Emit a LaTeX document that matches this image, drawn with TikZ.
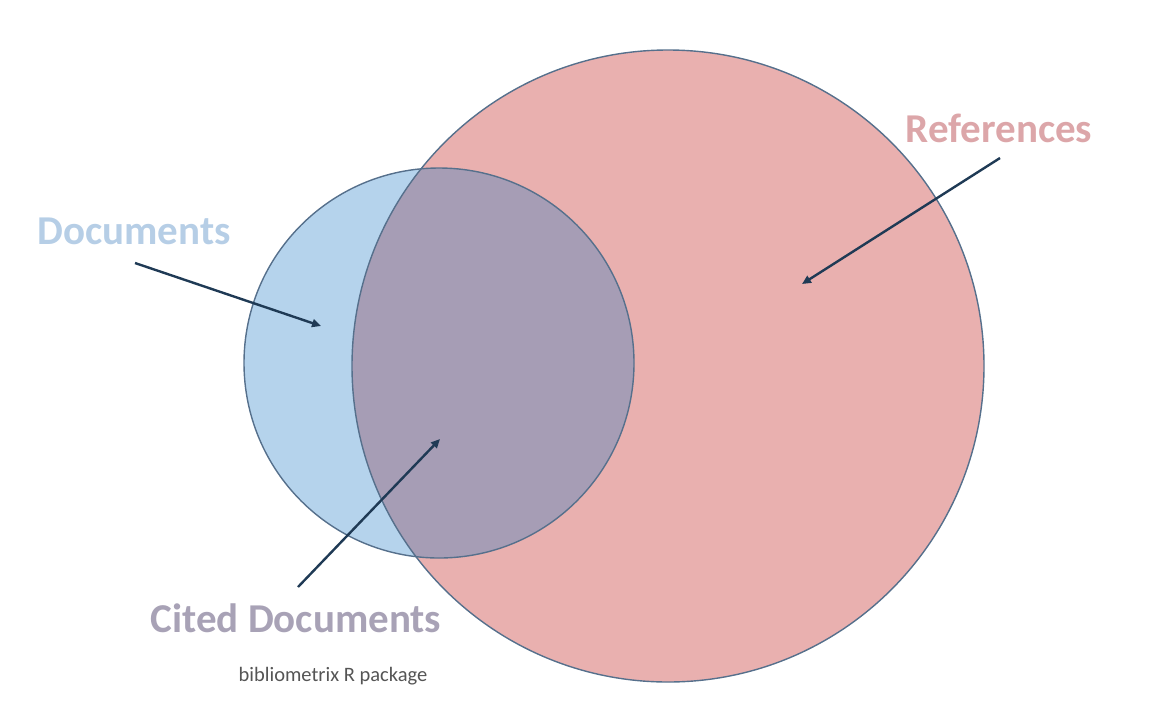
\documentclass[tikz,border=0pt]{standalone}
\usepackage{fontspec}
\setmainfont{Carlito}
\usetikzlibrary{arrows.meta}
\definecolor{docfill}{HTML}{B5D3EC}
\definecolor{reffill}{HTML}{E9B0AF}
\definecolor{bothfill}{HTML}{A69DB5}
\definecolor{rim}{HTML}{56708C}
\definecolor{pointer}{HTML}{1F3A55}
\definecolor{doctext}{HTML}{B6CEE6}
\definecolor{reftext}{HTML}{DCA6A9}
\definecolor{citetext}{HTML}{A8A2B6}
\definecolor{notetext}{HTML}{555555}
\tikzset{
  rimline/.style={draw=rim, line width=1.4pt},
  pointerline/.style={draw=pointer, line width=2.4pt, -{Triangle[length=9pt,width=8pt]}},
  biglabel/.style={font=\fontsize{41}{49}\selectfont\bfseries, inner sep=0pt},
}
\begin{document}
\begin{tikzpicture}[x=1pt,y=-1pt]
\useasboundingbox (0,0) rectangle (1153,716);
% the two sets
\fill[docfill] (439,363) circle[radius=195pt];
\fill[reffill] (668,366) circle[radius=316pt];
\begin{scope}
  \clip (439,363) circle[radius=195pt];
  \fill[bothfill] (668,366) circle[radius=316pt];
\end{scope}
\draw[rimline] (668,366) circle[radius=316pt];
\draw[rimline] (439,363) circle[radius=195pt];
% labels
\node[biglabel, text=doctext] (doc) at (134,231) {Documents};
\node[biglabel, text=reftext] (ref) at (999,128) {References};
\node[biglabel, text=citetext] (cite) at (296,618) {Cited Documents};
\node[inner sep=0pt, text=notetext, font=\fontsize{20.5}{24}\selectfont] (note) at (333,676) {bibliometrix R package};
% pointers into the regions
\coordinate (docA) at (135,263);
\coordinate (docB) at (321,326);
\coordinate (refA) at (1000,158);
\coordinate (refB) at (802,284);
\coordinate (citeA) at (298,587);
\coordinate (citeB) at (440,439);
\draw[pointerline] (docA) -- (docB);
\draw[pointerline] (refA) -- (refB);
\draw[pointerline] (citeA) -- (citeB);
\end{tikzpicture}
\end{document}
